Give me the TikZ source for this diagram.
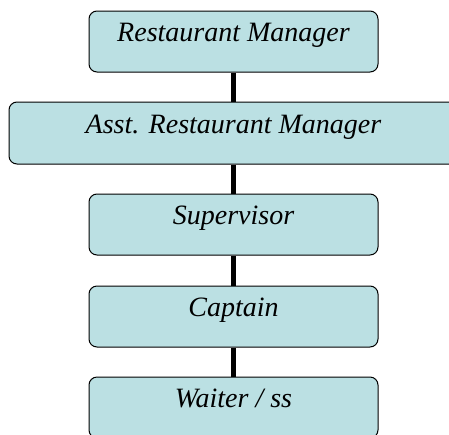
\documentclass[tikz,border=0pt]{standalone}
\usepackage{fontspec}
\setmainfont{Liberation Serif}
\definecolor{boxfill}{RGB}{187,224,227}
\tikzset{
  rank/.style={draw=black, line width=1pt, fill=boxfill, rounded corners=8pt,
    minimum width=289pt, inner xsep=0pt, inner ysep=0pt,
    text height=30pt, text depth=31pt,
    font=\fontsize{28}{32}\selectfont\itshape},
  link/.style={line width=5pt}
}
\begin{document}
\begin{tikzpicture}[x=1pt, y=-1pt]
\useasboundingbox (0,0) rectangle (449,434);
\clip (0,0) rectangle (449,434);
\node[rank] (rm) at (233.5,41.5){Restaurant Manager};
\node[rank, minimum width=449pt, text height=31pt] (arm) at (233.5,133){Asst. Restaurant Manager};
\node[rank] (sup) at (233.5,224.5){Supervisor};
\node[rank] (cap) at (233.5,316.5){Captain};
\node[rank] (wai) at (233.5,407.5){Waiter / ss};
\draw[link](rm) -- (arm);
\draw[link](arm) -- (sup);
\draw[link](sup) -- (cap);
\draw[link](cap) -- (wai);
\end{tikzpicture}
\end{document}
